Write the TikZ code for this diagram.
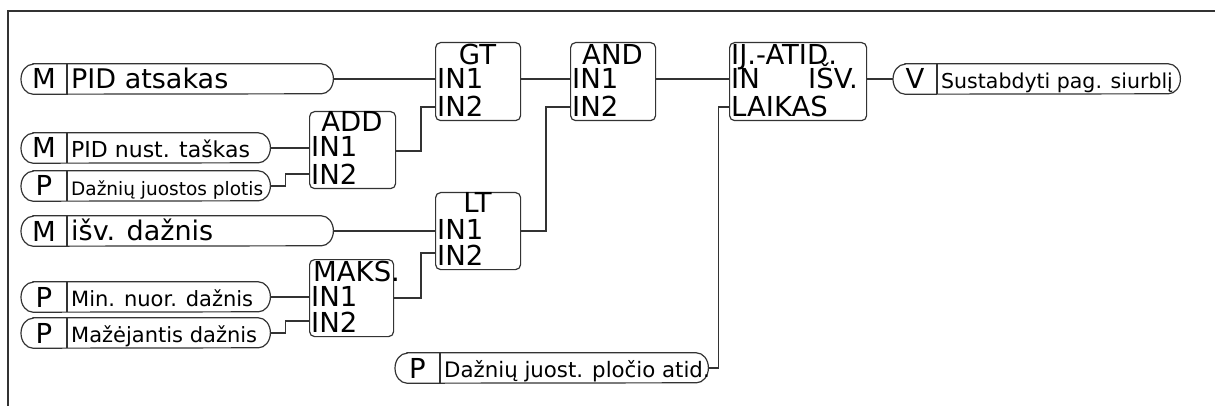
\documentclass[tikz,border=0pt]{standalone}
\usepackage{fontspec}
\setmainfont{DejaVu Sans}
\tikzset{
  x=1pt, y=-1pt,
  ln/.style={line width=1.2pt, draw=black!80},
  pillhold/.style={draw=none, inner sep=0pt, minimum height=30pt, anchor=west},
  blk/.style={ln, rounded corners=5pt, inner sep=0pt, anchor=north west},
  bigtxt/.style={inner sep=0pt, font=\fontsize{27.5}{28}\selectfont},
  boxtxt/.style={inner sep=0pt, font=\fontsize{27.5}{28}\selectfont},
}
% name, x1, x2, yc, divider, letter, text, textsize
\newcommand\mypill[8]{%
  \node[pillhold, minimum width={(#3-#2)*1pt}] (#1) at (#2,#4) {};
  \draw[ln] ([xshift=12pt]#1.north west) -- ([xshift=-12pt]#1.north east)
    arc[start angle=90, end angle=-90, x radius=12pt, y radius=15pt]
    -- ([xshift=12pt]#1.south west)
    arc[start angle=270, end angle=90, x radius=12pt, y radius=15pt] -- cycle;
  \draw[ln] ({#5},{#4-15}) -- ({#5},{#4+15});
  \node[bigtxt, anchor=base] (#1-l) at ({(#2+#5)/2},{#4+10}) {#6};
  \node[inner sep=0pt, anchor=base west, font=\fontsize{#8}{#8}\selectfont] (#1-t) at ({#5+4},{#4+9.5}) {#7};
}
% name, x1, x2, top, bottom
\newcommand\myblock[5]{%
  \node[blk, minimum width={(#3-#2)*1pt}, minimum height={(#5-#4)*1pt}] (#1) at (#2,#4) {};
}
\begin{document}
\begin{tikzpicture}
\useasboundingbox (0,0) rectangle (1215,406);
% frame
\draw[ln] (8,406) -- (8,11) -- (1215,11);

% pills
\mypill{pa}{21}{333}{79}{67}{M}{PID atsakas}{27}
\mypill{pn}{21}{270}{148}{67}{M}{PID nust. taškas}{22}
\mypill{pd}{21}{270}{186}{67}{P}{Dažnių juostos plotis}{18.5}
\mypill{iv}{21}{333}{231}{67}{M}{išv. dažnis}{27}
\mypill{mn}{21}{270}{297}{67}{P}{Min. nuor. dažnis}{21}
\mypill{md}{21}{270}{333}{67}{P}{Mažėjantis dažnis}{21}
\mypill{dj}{395}{708}{368}{440}{P}{Dažnių juost. pločio atid.}{21.3}
\mypill{ss}{893}{1180}{79}{937}{V}{Sustabdyti pag. siurblį}{20.5}

% blocks
\myblock{gt}{435}{520}{42}{120}
\myblock{and}{570}{655}{42}{120}
\myblock{ij}{729}{866}{42}{120}
\myblock{add}{309}{395}{111}{188}
\myblock{lt}{435}{520}{192}{269}
\myblock{mx}{309}{393}{259}{336}

% block texts
\node[boxtxt, anchor=base] (gt-h) at (477.5,65) {GT};
\node[boxtxt, anchor=base west] (gt-1) at (437,89) {IN1};
\node[boxtxt, anchor=base west] (gt-2) at (437,117) {IN2};
\node[boxtxt, anchor=base] (and-h) at (612.5,65) {AND};
\node[boxtxt, anchor=base west] (and-1) at (572,89) {IN1};
\node[boxtxt, anchor=base west] (and-2) at (572,117) {IN2};
\node[boxtxt, anchor=base west] (ij-h) at (731,65) {IJ.-ATID.};
\node[boxtxt, anchor=base west] (ij-1) at (731,89) {IN};
\node[boxtxt, anchor=base east] (ij-o) at (858,89) {IŠV.};
\node[boxtxt, anchor=base west] (ij-2) at (731,117) {LAIKAS};
\node[boxtxt, anchor=base] (add-h) at (352,132) {ADD};
\node[boxtxt, anchor=base west] (add-1) at (311,157) {IN1};
\node[boxtxt, anchor=base west] (add-2) at (311,185) {IN2};
\node[boxtxt, anchor=base] (lt-h) at (477.5,213) {LT};
\node[boxtxt, anchor=base west] (lt-1) at (437,240) {IN1};
\node[boxtxt, anchor=base west] (lt-2) at (437,265) {IN2};
\node[boxtxt, anchor=base west] (mx-h) at (313,281) {MAKS.};
\node[boxtxt, anchor=base west] (mx-1) at (311,306) {IN1};
\node[boxtxt, anchor=base west] (mx-2) at (311,332) {IN2};

% input / output points
\coordinate (gt-i1) at (435,79);
\coordinate (gt-i2) at (435,107);
\coordinate (gt-o) at (520,79);
\coordinate (and-i1) at (570,79);
\coordinate (and-i2) at (570,107);
\coordinate (and-o) at (655,79);
\coordinate (ij-i1) at (729,79);
\coordinate (ij-i2) at (729,107);
\coordinate (ij-oo) at (866,79);
\coordinate (add-i1) at (309,148);
\coordinate (add-i2) at (309,174);
\coordinate (add-o) at (395,151);
\coordinate (lt-i1) at (435,231);
\coordinate (lt-i2) at (435,253);
\coordinate (lt-o) at (520,231);
\coordinate (mx-i1) at (309,297);
\coordinate (mx-i2) at (309,321);
\coordinate (mx-o) at (393,298);

% connectors
\draw[ln] (pa.east) -- (gt-i1);
\draw[ln] (pn.east) -- (add-i1);
\draw[ln] (pd.east) -- ++(15,0) |- (add-i2);
\draw[ln] (add-o) -- (421,151) |- (gt-i2);
\draw[ln] (gt-o) -- (and-i1);
\draw[ln] (iv.east) -- (lt-i1);
\draw[ln] (mn.east) -- (mx-i1);
\draw[ln] (md.east) -- ++(15,0) |- (mx-i2);
\draw[ln] (mx-o) -- (421,298) |- (lt-i2);
\draw[ln] (lt-o) -- (546,231) |- (and-i2);
\draw[ln] (and-o) -- (ij-i1);
\draw[ln] (dj.east) -- ++(10,0) |- (ij-i2);
\draw[ln] (ij-oo) -- (ss.west);
\end{tikzpicture}
\end{document}
